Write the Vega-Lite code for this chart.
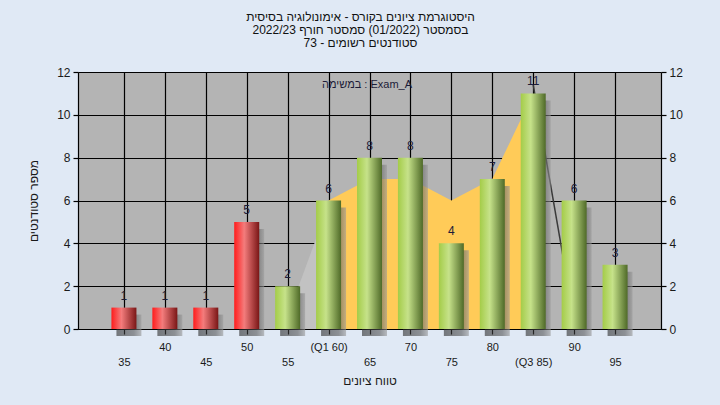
{
  "$schema": "https://vega.github.io/schema/vega-lite/v6.json",
  "width": 583,
  "height": 257,
  "autosize": {"type": "none"},
  "padding": {"left": 78, "top": 72, "right": 59, "bottom": 76},
  "background": "#e0e9f5",
  "config": {
    "font": "Liberation Sans",
    "view": {"fill": "#b4b4b4", "stroke": null},
    "axis": {"labelFont": "Liberation Sans", "titleFont": "Liberation Sans", "labelColor": "#1a1a1a", "titleColor": "#1a1a1a", "titleFontWeight": "normal", "domainColor": "#000000", "tickColor": "#000000", "gridColor": "#000000", "gridOpacity": 1, "gridWidth": 1.2, "domainWidth": 1.2, "tickWidth": 1.2}
  },
  "title": {
    "text": ["היסטוגרמת ציונים בקורס - אימונולוגיה בסיסית", "בסמסטר  (01/2022)  סמסטר חורף 2022/23", "סטודנטים רשומים - 73"],
    "fontSize": 12,
    "fontWeight": "normal",
    "color": "#111111",
    "lineHeight": 13,
    "offset": 16,
    "anchor": "middle",
    "dx": -9
  },
  "datasets": {
    "bars": [
      {"score": 35, "count": 1},
      {"score": 40, "count": 1},
      {"score": 45, "count": 1},
      {"score": 50, "count": 5},
      {"score": 55, "count": 2},
      {"score": 60, "count": 6},
      {"score": 65, "count": 8},
      {"score": 70, "count": 8},
      {"score": 75, "count": 4},
      {"score": 80, "count": 7},
      {"score": 85, "count": 11},
      {"score": 90, "count": 6},
      {"score": 95, "count": 3}
    ],
    "gold": [
      {"score": 60, "v": 6},
      {"score": 65, "v": 7},
      {"score": 70, "v": 7},
      {"score": 75, "v": 6},
      {"score": 80, "v": 7},
      {"score": 85, "v": 11}
    ],
    "low": [
      {"score": 55, "v": 0.6},
      {"score": 60, "v": 5.8}
    ],
    "tail": [
      {"score": 85, "v": 11.4},
      {"score": 90, "v": 0.4}
    ],
    "note": [
      {"score": 64.7, "v": 11.4, "label": "במשימה : Exam_A"}
    ]
  },
  "resolve": {"axis": {"x": "independent", "y": "independent"}},
  "layer": [
    {
      "data": {"name": "low"},
      "mark": {"type": "area", "color": "#c2c2c2"},
      "encoding": {
        "x": {"field": "score", "type": "quantitative", "scale": {"domain": [30, 100], "nice": false, "zero": false},
          "axis": {"orient": "bottom", "values": [35, 40, 45, 50, 55, 60, 65, 70, 75, 80, 85, 90, 95], "grid": true, "tickSize": 5, "labelPadding": 7, "labelFontSize": 11,
            "labelExpr": "datum.value % 10 == 0 ? (datum.value == 60 ? '(Q1 60)' : datum.label) : ''", "title": null}},
        "y": {"field": "v", "type": "quantitative", "scale": {"domain": [0, 12], "nice": false},
          "axis": {"orient": "left", "values": [0, 2, 4, 6, 8, 10, 12], "grid": true, "tickSize": 5, "labelPadding": 3, "labelFontSize": 12,
            "title": "מספר סטודנטים", "titleFontSize": 12, "titlePadding": 16}}
      }
    },
    {
      "data": {"name": "gold"},
      "mark": {"type": "area", "color": "#ffcb58"},
      "encoding": {
        "x": {"field": "score", "type": "quantitative",
          "axis": {"orient": "bottom", "values": [35, 40, 45, 50, 55, 60, 65, 70, 75, 80, 85, 90, 95], "grid": false, "ticks": false, "tickSize": 0, "domain": false, "labelPadding": 27, "labelFontSize": 11,
            "labelExpr": "datum.value % 10 == 5 ? (datum.value == 85 ? '(Q3 85)' : datum.label) : ''",
            "title": "טווח ציונים", "titleFontSize": 12, "titlePadding": 8}},
        "y": {"field": "v", "type": "quantitative",
          "axis": {"orient": "right", "values": [0, 2, 4, 6, 8, 10, 12], "grid": false, "tickSize": 5, "labelPadding": 3, "labelFontSize": 12, "title": null}}
      }
    },
    {
      "data": {"name": "tail"},
      "mark": {"type": "line", "color": "#3a3a3a", "strokeWidth": 1.5},
      "encoding": {
        "x": {"field": "score", "type": "quantitative", "axis": null},
        "y": {"field": "v", "type": "quantitative", "axis": null}
      }
    },
    {
      "data": {"name": "bars"},
      "mark": {"type": "bar", "size": 25, "xOffset": 5, "yOffset": 7,
        "color": {"gradient": "linear", "x1": 0, "x2": 1, "y1": 0, "y2": 0, "stops": [{"offset": 0, "color": "#2a2a2a"}, {"offset": 0.7, "color": "#555555"}, {"offset": 1, "color": "#9a9a9a"}]},
        "opacity": 0.6},
      "encoding": {
        "x": {"field": "score", "type": "quantitative", "axis": null},
        "y": {"field": "count", "type": "quantitative", "axis": null}
      }
    },
    {
      "data": {"name": "bars"},
      "transform": [{"filter": "datum.score <= 50"}],
      "mark": {"type": "bar", "size": 25,
        "color": {"gradient": "linear", "x1": 0, "x2": 1, "y1": 0, "y2": 0, "stops": [{"offset": 0, "color": "#ff1c1c"}, {"offset": 0.4, "color": "#f47c7c"}, {"offset": 1, "color": "#7a1616"}]}},
      "encoding": {
        "x": {"field": "score", "type": "quantitative", "axis": null},
        "y": {"field": "count", "type": "quantitative", "axis": null}
      }
    },
    {
      "data": {"name": "bars"},
      "transform": [{"filter": "datum.score >= 55"}],
      "mark": {"type": "bar", "size": 25,
        "color": {"gradient": "linear", "x1": 0, "x2": 1, "y1": 0, "y2": 0, "stops": [{"offset": 0, "color": "#a4cc48"}, {"offset": 0.4, "color": "#c6e28a"}, {"offset": 1, "color": "#4f6a28"}]}},
      "encoding": {
        "x": {"field": "score", "type": "quantitative", "axis": null},
        "y": {"field": "count", "type": "quantitative", "axis": null}
      }
    },
    {
      "data": {"name": "bars"},
      "mark": {"type": "text", "baseline": "alphabetic", "dy": -8, "fontSize": 12, "color": "#1c1c38"},
      "encoding": {
        "x": {"field": "score", "type": "quantitative", "axis": null},
        "y": {"field": "count", "type": "quantitative", "axis": null},
        "text": {"field": "count", "type": "quantitative"}
      }
    },
    {
      "data": {"name": "note"},
      "mark": {"type": "text", "baseline": "middle", "fontSize": 11, "color": "#1c1c38"},
      "encoding": {
        "x": {"field": "score", "type": "quantitative", "axis": null},
        "y": {"field": "v", "type": "quantitative", "axis": null},
        "text": {"field": "label"}
      }
    }
  ]
}
